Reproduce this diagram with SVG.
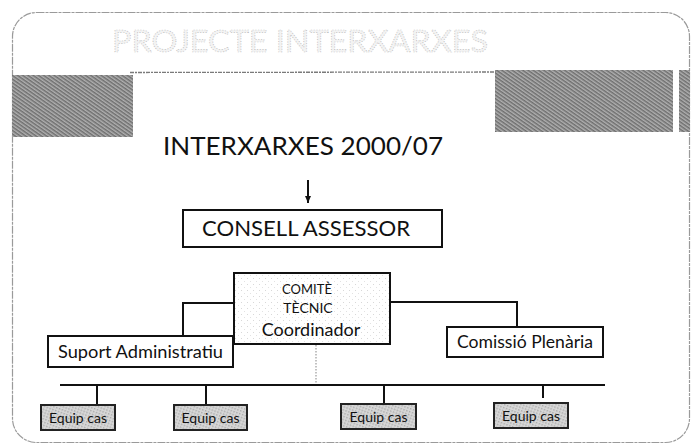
<svg xmlns="http://www.w3.org/2000/svg" width="694" height="446" viewBox="0 0 694 446">
<defs>
<pattern id="half" width="3" height="3" patternUnits="userSpaceOnUse" patternTransform="rotate(35)">
<rect width="3" height="3" fill="#b0b0b0"/>
<rect width="3" height="1.5" fill="#6e6e6e"/>
</pattern>
<pattern id="light" width="3" height="3" patternUnits="userSpaceOnUse" patternTransform="rotate(20)">
<rect width="3" height="3" fill="#d8d8d8"/>
<rect width="1.5" height="1.5" fill="#ababab"/>
</pattern>
<pattern id="speck" width="6" height="6" patternUnits="userSpaceOnUse">
<rect width="6" height="6" fill="#ffffff"/>
<rect x="1" y="2" width="1" height="1" fill="#d8d8d8"/>
<rect x="4" y="5" width="1" height="1" fill="#e2e2e2"/>
</pattern>
<marker id="arr" markerWidth="8" markerHeight="8" refX="7" refY="4" orient="auto" markerUnits="userSpaceOnUse">
<path d="M0,1 L7,4 L0,7 Z" fill="#111"/>
</marker>
<style>
.box{fill:#fff;stroke:#111;stroke-width:2}
.eq{fill:url(#light);stroke:#222;stroke-width:2}
.t{font-family:"Lato","Liberation Sans",sans-serif;fill:#111}
.ln{stroke:#111;stroke-width:2;fill:none}
</style>
</defs>
<rect width="694" height="446" fill="#fff"/>
<rect x="12.5" y="12.5" width="677" height="430" rx="24" fill="none" stroke="#9a9a9a" stroke-width="1.2" stroke-dasharray="8 1 3 1"/>
<text x="112" y="52" font-family="Lato,'Liberation Sans',sans-serif" font-size="31" fill="#f3f3f3" stroke="#b8b8b8" stroke-width="0.7" stroke-dasharray="1 1.6" textLength="376" lengthAdjust="spacingAndGlyphs">PROJECTE INTERXARXES</text>
<rect x="12" y="75" width="121" height="62" fill="url(#half)"/>
<rect x="495" y="70" width="178" height="62" fill="url(#half)"/>
<rect x="679" y="70" width="11" height="62" fill="url(#half)"/>
<line x1="130" y1="72.5" x2="496" y2="72" stroke="#7a7a7a" stroke-width="1.3" stroke-dasharray="4 1 2 1"/>

<g id="title">
<text class="t" x="163" y="155" font-size="25" textLength="280" lengthAdjust="spacingAndGlyphs">INTERXARXES 2000/07</text>
</g>

<g id="connectors">
<line class="ln" x1="308" y1="180" x2="308" y2="203" stroke-width="1.5" marker-end="url(#arr)"/>
<polyline class="ln" points="233,303 183,303 183,336"/>
<polyline class="ln" points="390,302 517,302 517,327"/>
<line x1="316" y1="345" x2="316" y2="384" stroke="#999" stroke-width="1.2" stroke-dasharray="1.5 1.5"/>
<line class="ln" x1="60" y1="385" x2="605" y2="385"/>
<line class="ln" x1="97" y1="385" x2="97" y2="405"/>
<line class="ln" x1="206" y1="385" x2="206" y2="405"/>
<line class="ln" x1="384" y1="385" x2="384" y2="405"/>
<line class="ln" x1="543" y1="385" x2="543" y2="398"/>
</g>

<g id="consell">
<rect class="box" x="183" y="210" width="259" height="37"/>
<text class="t" x="202" y="236" font-size="21" textLength="208" lengthAdjust="spacingAndGlyphs">CONSELL ASSESSOR</text>
</g>

<g id="comite">
<rect class="box" x="234" y="273" width="156" height="71" style="fill:url(#speck)"/>
<text class="t" x="307" y="294" font-size="13" text-anchor="middle">COMITÈ</text>
<text class="t" x="308" y="313" font-size="14" text-anchor="middle">TÈCNIC</text>
<text class="t" x="311" y="336" font-size="18" text-anchor="middle">Coordinador</text>
</g>

<g id="suport">
<rect class="box" x="48" y="336" width="185" height="31"/>
<text class="t" x="58" y="358" font-size="17" textLength="165" lengthAdjust="spacingAndGlyphs">Suport Administratiu</text>
</g>

<g id="comissio">
<rect class="box" x="447" y="327" width="156" height="30"/>
<text class="t" x="457" y="348" font-size="17" textLength="136" lengthAdjust="spacingAndGlyphs">Comissió Plenària</text>
</g>

<g id="equip1">
<rect class="eq" x="41" y="405" width="74" height="25"/>
<text class="t" x="78" y="423" font-size="14" text-anchor="middle">Equip cas</text>
</g>
<g id="equip2">
<rect class="eq" x="174" y="405" width="73" height="25"/>
<text class="t" x="210.5" y="423" font-size="14" text-anchor="middle">Equip cas</text>
</g>
<g id="equip3">
<rect class="eq" x="341" y="404" width="75" height="25"/>
<text class="t" x="378.5" y="422" font-size="14" text-anchor="middle">Equip cas</text>
</g>
<g id="equip4">
<rect class="eq" x="494" y="403" width="74" height="25"/>
<text class="t" x="531" y="421" font-size="14" text-anchor="middle">Equip cas</text>
</g>
</svg>
